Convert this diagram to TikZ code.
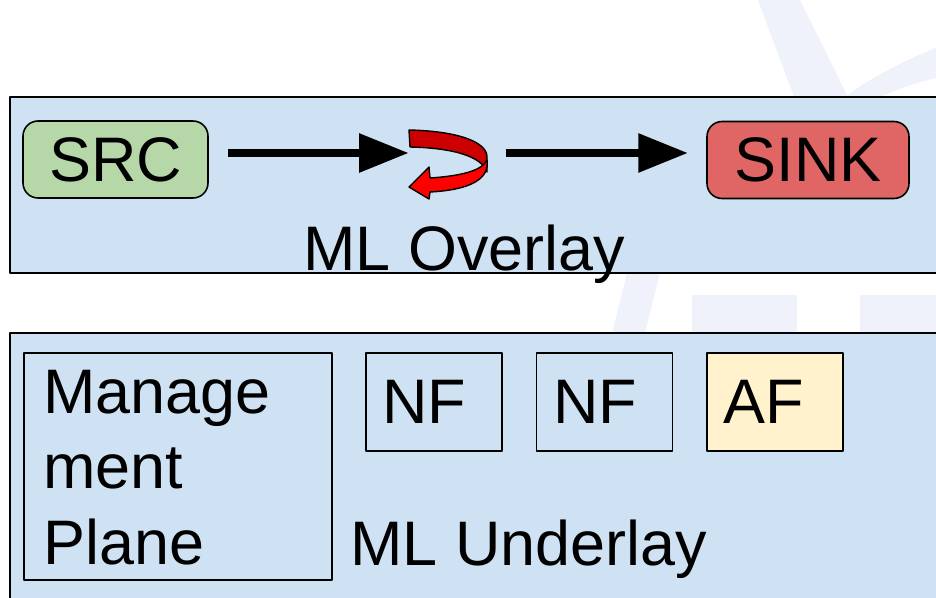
\documentclass[tikz,border=0pt]{standalone}
\usepackage{fontspec}
\setmainfont{Liberation Sans}
\usetikzlibrary{arrows.meta}
\definecolor{panelblue}{HTML}{CFE2F3}
\definecolor{srcgreen}{HTML}{B6D7A8}
\definecolor{sinkred}{HTML}{E06666}
\definecolor{afyellow}{HTML}{FFF2CC}
\definecolor{turndark}{HTML}{CC0000}
\definecolor{turnlight}{HTML}{FF0000}
\definecolor{wmark}{RGB}{239,242,250}
\tikzset{
	panel/.style={draw=black, fill=panelblue, line width=1.2pt},
	endbox/.style={draw=black, rounded corners=0.3cm, line width=0.9pt, minimum height=1.54cm, inner sep=0pt},
	fbox/.style={draw=black, line width=0.9pt, minimum width=2.72cm, minimum height=1.96cm, text width=2.06cm, inner xsep=0.33cm, inner ysep=0pt, align=left},
	lbl/.style={inner sep=0pt, anchor=base west},
	flow/.style={line width=0.18cm, -{Triangle[length=1cm,width=0.74cm]}},
}
\begin{document}
\begin{tikzpicture}[x=0.02cm, y=-0.02cm, font=\fontsize{35.8}{43.2}\selectfont, line join=round]
	\useasboundingbox (0,0) rectangle (936,598);
	% faint backdrop
	\fill[wmark] (758,0) -- (800,0) -- (848,97) -- (794,97) -- cycle;
	\fill[wmark] (936,48) .. controls (905,60) and (870,78) .. (845,97) -- (880,97) .. controls (898,89) and (918,82) .. (936,78) -- cycle;
	\fill[wmark] (627,273) -- (660,273) -- (645,333) -- (612,333) -- cycle;
	\fill[wmark] (692,295) rectangle (797,333);
	\fill[wmark] (860,295) rectangle (936,333);
	\path
	(10,97) coordinate (ovA)
	(945,273) coordinate (ovB)
	(10,333) coordinate (unA)
	(945,605) coordinate (unB)
	(409,153) coordinate (turnin)
	(506,153) coordinate (turnout)
	;
	\draw[panel] (ovA) rectangle (ovB);
	\draw[panel] (unA) rectangle (unB);
	% overlay
	\node[endbox, fill=srcgreen, minimum width=3.7cm] (src) at (115.5,159.5) {SRC};
	\node[endbox, fill=sinkred, minimum width=4.04cm] (sink) at (808,160) {SINK};
	\draw[flow, shorten <=0.38cm] (src.east |- turnin) -- (turnin);
	\draw[flow, shorten >=0.36cm] (turnout) -- (sink.west |- turnout);
	\draw[fill=turndark, line width=0.8pt] (409,130) 
	.. controls (455,131) and (487,141) .. (487,157) -- (487,172)
	.. controls (482,157) and (455,148) .. (410,147) -- cycle;
	\draw[fill=turnlight, line width=0.8pt] (487,160)
	.. controls (482,171) and (460,176) .. (430,178)
	-- (429,167) -- (409,187) -- (429,199) -- (430,192)
	.. controls (468,190) and (490,180) .. (487,160) -- cycle;
	\node[lbl] (ovtxt) at (303,270) {ML Overlay};
	% underlay
	\node[draw=black, line width=0.9pt, minimum width=6.16cm, minimum height=4.54cm] (mgmt) at (178,466.5) {};
	\node[lbl, text width=5.5cm, align=left] (mgmttxt) at (43,413) {Manage\\ment\\Plane};
	\foreach \n/\x/\t/\c in {nfa/434/NF/panelblue, nfb/604.5/NF/panelblue, af/775/AF/afyellow}
	\node[fbox, fill=\c] (\n) at (\x,402) {\t};
	\node[lbl] (untxt) at (350,565) {ML Underlay};
\end{tikzpicture}
\end{document}
